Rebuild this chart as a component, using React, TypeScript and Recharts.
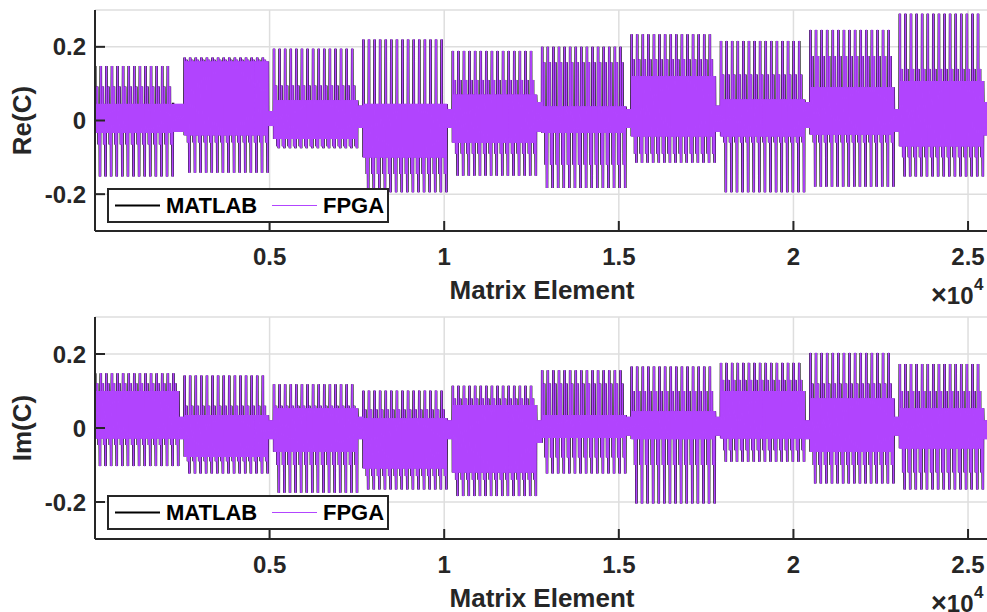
import React from 'react';
import { LineChart, Line, XAxis, YAxis, CartesianGrid, Legend } from 'recharts';

// ---------- axes / labels ----------
const SERIES_NAMES = ['MATLAB', 'FPGA'];
const SERIES_COLORS = ['#000000', '#B245FF'];
const X_TICKS = [5000, 10000, 15000, 20000, 25000];
const Y_TICKS = [-0.2, 0, 0.2];
const X_DOMAIN: [number, number] = [1, 25600];
const Y_DOMAIN: [number, number] = [-0.3, 0.3];
const X_LABEL = 'Matrix Element';
const Y_LABELS = ['Re(C)', 'Im(C)'];

// 10 blocks of 2560 elements; each block = 16 columns of 160 elements
const BLOCK_LEN = 2560;
const COL_LEN = 160;
const COLS_PER_BLOCK = 16;
const N_BLOCKS = 10;

// order of levels visited inside one 160-element column
// H = peak high, h = secondary high, b = band top, c = band bottom, l = secondary low, L = peak low
const COL_PATTERN = [
  'H', 'c', 'H', 'c',
  'b', 'c', 'b', 'c', 'b', 'c',
  'h', 'c', 'h',
  'c', 'b', 'c', 'b',
  'l', 'b', 'l',
  'b', 'c', 'b', 'c',
  'L', 'b', 'L', 'b',
];
const QUIET_PATTERN = [
  'q', 'Q', 'q', 'Q', 'q', 'Q', 'q', 'Q', 'q', 'Q', 'q', 'Q', 'q', 'Q',
  'q', 'Q', 'q', 'Q', 'q', 'Q', 'q', 'Q', 'q', 'Q', 'q', 'Q', 'q', 'Q',
];

// ---------- Re(C): per-block levels ----------
const RE_H = [0.148, 0.171, 0.195, 0.220, 0.189, 0.200, 0.234, 0.216, 0.246, 0.290];
const RE_h = [0.092, 0.165, 0.095, 0.045, 0.110, 0.158, 0.166, 0.125, 0.175, 0.140];
const RE_b = [0.045, 0.160, 0.055, 0.045, 0.070, 0.038, 0.120, 0.057, 0.090, 0.107];
const RE_c = [-0.033, -0.040, -0.050, -0.100, -0.060, -0.033, -0.043, -0.043, -0.038, -0.070];
const RE_l = [-0.065, -0.060, -0.070, -0.145, -0.090, -0.120, -0.090, -0.060, -0.060, -0.100];
const RE_L = [-0.152, -0.142, -0.075, -0.195, -0.150, -0.183, -0.115, -0.195, -0.180, -0.152];
const RE_q = [0.045, 0.025, 0.040, 0.030, 0.050, 0.030, 0.040, 0.050, 0.030, 0.050];
const RE_Q = [-0.030, -0.015, -0.020, -0.020, -0.030, -0.020, -0.030, -0.020, -0.030, -0.040];
const RE_QUIET_COLS = [2, 1, 1, 1, 1, 1, 1, 1, 1, 1];

// ---------- Im(C): per-block levels ----------
const IM_H = [0.148, 0.142, 0.118, 0.101, 0.114, 0.156, 0.166, 0.176, 0.203, 0.173];
const IM_h = [0.121, 0.060, 0.060, 0.050, 0.080, 0.120, 0.100, 0.130, 0.120, 0.100];
const IM_b = [0.100, 0.035, 0.053, 0.026, 0.062, 0.035, 0.045, 0.100, 0.080, 0.053];
const IM_c = [-0.028, -0.078, -0.064, -0.109, -0.120, -0.027, -0.030, -0.028, -0.064, -0.055];
const IM_l = [-0.046, -0.090, -0.100, -0.130, -0.140, -0.080, -0.100, -0.060, -0.100, -0.120];
const IM_L = [-0.103, -0.123, -0.175, -0.166, -0.184, -0.123, -0.204, -0.091, -0.150, -0.166];
const IM_q = [0.030, 0.020, 0.030, 0.020, 0.020, 0.030, 0.030, 0.020, 0.030, 0.020];
const IM_Q = [-0.030, -0.030, -0.030, -0.030, -0.040, -0.020, -0.020, -0.030, -0.020, -0.030];
const IM_QUIET_COLS = [1, 1, 1, 1, 1, 1, 1, 1, 1, 1];

type Levels = Record<string, number[]>;

const RE_MATLAB: Levels = { H: RE_H, h: RE_h, b: RE_b, c: RE_c, l: RE_l, L: RE_L, q: RE_q, Q: RE_Q };
const RE_FPGA: Levels = RE_MATLAB; // FPGA trace overlays the MATLAB trace
const IM_MATLAB: Levels = { H: IM_H, h: IM_h, b: IM_b, c: IM_c, l: IM_l, L: IM_L, q: IM_q, Q: IM_Q };
const IM_FPGA: Levels = IM_MATLAB;

function buildData(m: Levels, f: Levels, quietCols: number[]) {
  const rows: { x: number; matlab: number; fpga: number }[] = [];
  for (let k = 0; k < N_BLOCKS; k++) {
    for (let col = 0; col < COLS_PER_BLOCK; col++) {
      const quiet = col >= COLS_PER_BLOCK - quietCols[k];
      const pat = quiet ? QUIET_PATTERN : COL_PATTERN;
      pat.forEach((key, s) => {
        rows.push({
          x: 1 + k * BLOCK_LEN + col * COL_LEN + (s * COL_LEN) / pat.length,
          matlab: m[key][k],
          fpga: f[key][k],
        });
      });
    }
  }
  return rows;
}

const RE_DATA = buildData(RE_MATLAB, RE_FPGA, RE_QUIET_COLS);
const IM_DATA = buildData(IM_MATLAB, IM_FPGA, IM_QUIET_COLS);

// ---------- styling ----------
const FONT = "'Liberation Sans', Arial, Helvetica, sans-serif";
const AX = '#262626';
const GRID = '#dedede';
const TICK_LEN = 10;
const CHART_W = 1000;
const CHART_H = 306;

const fmtX = (v: number) => String(v / 10000);
const fmtY = (v: number) => (v === 0 ? '0' : String(v));

const XTickBottom = (props: any) => {
  const { x, y, payload } = props;
  return (
    <g>
      <line x1={x} x2={x} y1={y} y2={y - TICK_LEN} stroke={AX} strokeWidth={2} />
      <text x={x} y={y + 34} textAnchor="middle" fontSize={24} fontWeight="bold" fill={AX} fontFamily={FONT}>
        {fmtX(payload.value)}
      </text>
    </g>
  );
};
const XTickTop = (props: any) => {
  const { x, y } = props;
  return <line x1={x} x2={x} y1={y} y2={y + TICK_LEN} stroke={AX} strokeWidth={2} />;
};
const YTickLeft = (props: any) => {
  const { x, y, payload } = props;
  return (
    <g>
      <line x1={x} x2={x + TICK_LEN} y1={y} y2={y} stroke={AX} strokeWidth={2} />
      <text x={x - 9} y={y + 8.5} textAnchor="end" fontSize={24} fontWeight="bold" fill={AX} fontFamily={FONT}>
        {fmtY(payload.value)}
      </text>
    </g>
  );
};
const YTickRight = (props: any) => {
  const { x, y } = props;
  return <line x1={x} x2={x - TICK_LEN} y1={y} y2={y} stroke={AX} strokeWidth={2} />;
};

const xLabel = (props: any) => {
  const vb = props.viewBox || {};
  const cx = vb.x + vb.width / 2;
  const right = vb.x + vb.width;
  return (
    <g fontFamily={FONT} fontWeight="bold" fill={AX}>
      <text x={cx} y={vb.y + 68} textAnchor="middle" fontSize={26}>
        {X_LABEL}
      </text>
      <text x={right - 58} y={vb.y + 73} fontSize={24}>
        <tspan fontSize={27}>×</tspan>10
      </text>
      <text x={right - 15} y={vb.y + 59} fontSize={17}>
        4
      </text>
    </g>
  );
};

const makeYLabel = (txt: string) => (props: any) => {
  const vb = props.viewBox || {};
  const cy = vb.y + vb.height / 2;
  return (
    <text
      x={31}
      y={cy}
      transform={`rotate(-90, 31, ${cy})`}
      textAnchor="middle"
      fontSize={26}
      fontWeight="bold"
      fill={AX}
      fontFamily={FONT}
    >
      {txt}
    </text>
  );
};

const LEG_LINE_X = [6, 163];
const LEG_TEXT_X = [57, 214];
const LEG_LINE_W = [2, 1.2];

const LegendBox = (props: any) => {
  const payload = props.payload || [];
  const items = SERIES_NAMES.map((n, i) => {
    const p = payload.find((e: any) => e.value === n);
    return { name: n, color: p ? p.color : SERIES_COLORS[i] };
  });
  return (
    <div
      style={{
        position: 'relative',
        width: 282,
        height: 35,
        boxSizing: 'border-box',
        border: `2px solid ${AX}`,
        background: '#fff',
      }}
    >
      {items.map((p, i) => (
        <React.Fragment key={i}>
          <svg style={{ position: 'absolute', left: LEG_LINE_X[i], top: 0 }} width={45} height={31}>
            <line x1={0} x2={45} y1={15.5} y2={15.5} stroke={p.color} strokeWidth={LEG_LINE_W[i]} />
          </svg>
          <span
            style={{
              position: 'absolute',
              left: LEG_TEXT_X[i],
              top: 0,
              lineHeight: '31px',
              fontSize: 22,
              fontWeight: 'bold',
              fontFamily: FONT,
              color: '#000',
              whiteSpace: 'nowrap',
            }}
          >
            {p.name}
          </span>
        </React.Fragment>
      ))}
    </div>
  );
};

type PanelProps = { data: any[]; yLabel: string; marginTop: number; xAxisH: number; legendTop: number };

const Panel = ({ data, yLabel, marginTop, xAxisH, legendTop }: PanelProps) => (
  <LineChart
    width={CHART_W}
    height={CHART_H}
    data={data}
    margin={{ top: marginTop, right: 11, bottom: 0, left: 0 }}
  >
    <CartesianGrid stroke={GRID} strokeWidth={1.5} />
    <XAxis
      dataKey="x"
      type="number"
      domain={X_DOMAIN}
      ticks={X_TICKS}
      allowDataOverflow
      height={xAxisH}
      tickSize={0}
      tickMargin={0}
      tickLine={false}
      tick={<XTickBottom />}
      axisLine={{ stroke: AX, strokeWidth: 2 }}
      label={xLabel}
      interval={0}
    />
    <XAxis
      xAxisId="top"
      orientation="top"
      dataKey="x"
      type="number"
      domain={X_DOMAIN}
      ticks={X_TICKS}
      allowDataOverflow
      height={0}
      tickSize={0}
      tickMargin={0}
      tickLine={false}
      tick={<XTickTop />}
      axisLine={{ stroke: AX, strokeWidth: 2 }}
      interval={0}
    />
    <YAxis
      type="number"
      domain={Y_DOMAIN}
      ticks={Y_TICKS}
      allowDataOverflow
      width={95}
      tickSize={0}
      tickMargin={0}
      tickLine={false}
      tick={<YTickLeft />}
      axisLine={{ stroke: AX, strokeWidth: 2 }}
      label={makeYLabel(yLabel)}
      interval={0}
    />
    <YAxis
      yAxisId="r"
      orientation="right"
      type="number"
      domain={Y_DOMAIN}
      ticks={Y_TICKS}
      allowDataOverflow
      width={0}
      tickSize={0}
      tickMargin={0}
      tickLine={false}
      tick={<YTickRight />}
      axisLine={{ stroke: AX, strokeWidth: 2 }}
      interval={0}
    />
    <Line
      dataKey="matlab"
      name={SERIES_NAMES[0]}
      stroke={SERIES_COLORS[0]}
      strokeWidth={2.2}
      dot={false}
      activeDot={false}
      type="linear"
      isAnimationActive={false}
    />
    <Line
      dataKey="fpga"
      name={SERIES_NAMES[1]}
      stroke={SERIES_COLORS[1]}
      strokeWidth={1}
      dot={false}
      activeDot={false}
      type="linear"
      isAnimationActive={false}
    />
    <Legend
      layout="horizontal"
      verticalAlign="middle"
      align="center"
      content={<LegendBox />}
      wrapperStyle={{ left: 107, top: legendTop, width: 282, height: 35, bottom: 'auto', margin: 0 }}
    />
  </LineChart>
);

export default function App() {
  return (
    <div
      style={{
        position: 'fixed',
        left: 0,
        top: 0,
        width: 987,
        height: 612,
        overflow: 'hidden',
        background: '#fff',
      }}
    >
      <div style={{ position: 'absolute', left: 0, top: 0 }}>
        <Panel data={RE_DATA} yLabel={Y_LABELS[0]} marginTop={10} xAxisH={75} legendTop={188} />
      </div>
      <div style={{ position: 'absolute', left: 0, top: 306 }}>
        <Panel data={IM_DATA} yLabel={Y_LABELS[1]} marginTop={11} xAxisH={73} legendTop={189} />
      </div>
    </div>
  );
}
